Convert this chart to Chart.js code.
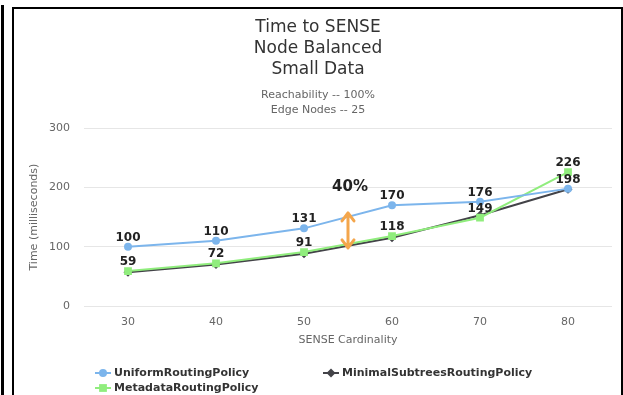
<!DOCTYPE html>
<html>
<head>
<meta charset="utf-8">
<title>Time to SENSE</title>
<script src="https://cdn.jsdelivr.net/npm/chart.js@4.4.1/dist/chart.umd.min.js"></script>
<style>
  html, body { margin: 0; padding: 0; background: #fff; }
  #wrap { position: relative; width: 623px; height: 395px; overflow: hidden; }
  canvas { display: block; }
  .rule { position: absolute; background: #000; pointer-events: none; }
</style>
</head>
<body>
<div id="wrap">
  <canvas id="chart" width="623" height="395"></canvas>
  <div class="rule" style="left:1px;top:5px;width:3px;height:390px"></div>
  <div class="rule" style="left:12px;top:7px;width:2px;height:388px"></div>
  <div class="rule" style="left:12px;top:7px;width:611px;height:2px"></div>
  <div class="rule" style="left:621px;top:7px;width:2px;height:388px"></div>
</div>
<script>
// SENSE cardinality (x categories)
const cardinality = ['30', '40', '50', '60', '70', '80'];
// time in milliseconds per routing policy
const uniformRouting = [100, 110, 131, 170, 176, 198];
const minimalSubtreesRouting = [57, 70, 88, 115, 153, 197];
const metadataRouting = [59, 72, 91, 118, 149, 226];
// y axis ticks
const timeTicks = [0, 100, 200, 300];

// gap annotation between the uniform and metadata curves
const gapAt = 2.5;          // halfway between 50 and 60
const gapFrom = 98;
const gapTo = 157;
const gapLabel = '40%';
const gapLabelAt = 200;

Chart.defaults.font.family = '"DejaVu Sans", Verdana, sans-serif';

// bold values above the points of selected series
const valueLabels = {
  id: 'valueLabels',
  afterDatasetsDraw(chart, args, opts) {
    const ctx = chart.ctx;
    ctx.save();
    ctx.font = 'bold 12px "DejaVu Sans"';
    ctx.textAlign = 'center';
    ctx.textBaseline = 'alphabetic';
    ctx.fillStyle = '#222';
    opts.datasets.forEach(i => {
      const values = chart.data.datasets[i].data;
      chart.getDatasetMeta(i).data.forEach((pt, j) => {
        ctx.fillText(String(values[j]), pt.x, pt.y - 6);
      });
    });
    ctx.restore();
  }
};

// orange double-headed arrow with its percentage label
const gapArrow = {
  id: 'gapArrow',
  afterDatasetsDraw(chart, args, opts) {
    const ctx = chart.ctx;
    const x = chart.scales.x.getPixelForValue(opts.at);
    const yTop = chart.scales.y.getPixelForValue(opts.to);
    const yBot = chart.scales.y.getPixelForValue(opts.from);
    ctx.save();
    ctx.strokeStyle = '#f4a64c';
    ctx.lineWidth = 3;
    ctx.lineCap = 'round';
    ctx.lineJoin = 'round';
    ctx.beginPath();
    ctx.moveTo(x, yTop); ctx.lineTo(x, yBot);
    ctx.moveTo(x - 6, yTop + 8); ctx.lineTo(x, yTop); ctx.lineTo(x + 6, yTop + 8);
    ctx.moveTo(x - 6, yBot - 8); ctx.lineTo(x, yBot); ctx.lineTo(x + 6, yBot - 8);
    ctx.stroke();
    ctx.font = 'bold 15px "DejaVu Sans"';
    ctx.fillStyle = '#222';
    ctx.textAlign = 'center';
    ctx.textBaseline = 'middle';
    ctx.fillText(opts.label, x + 2, chart.scales.y.getPixelForValue(opts.labelAt));
    ctx.restore();
  }
};

// legend in two columns under the axis title
const seriesLegend = {
  id: 'seriesLegend',
  afterDraw(chart, args, opts) {
    const ctx = chart.ctx;
    ctx.save();
    ctx.font = 'bold 11px "DejaVu Sans"';
    ctx.textAlign = 'left';
    ctx.textBaseline = 'middle';
    opts.slots.forEach((slot, i) => {
      const ds = chart.data.datasets[i];
      ctx.strokeStyle = ds.borderColor;
      ctx.lineWidth = 2;
      ctx.beginPath();
      ctx.moveTo(slot.x, slot.y);
      ctx.lineTo(slot.x + 16, slot.y);
      ctx.stroke();
      ctx.fillStyle = ds.borderColor;
      Chart.helpers.drawPoint(ctx, {
        pointStyle: ds.pointStyle, radius: ds.pointRadius, rotation: 0, borderWidth: 0
      }, slot.x + 8, slot.y);
      ctx.fillStyle = '#333';
      ctx.fillText(ds.label, slot.x + 19, slot.y);
    });
    ctx.restore();
  }
};

new Chart(document.getElementById('chart'), {
  type: 'line',
  data: {
    labels: cardinality,
    datasets: [
      {
        label: 'UniformRoutingPolicy',
        data: uniformRouting,
        borderColor: '#7cb5ec', backgroundColor: '#7cb5ec',
        pointStyle: 'circle', pointRadius: 4, pointBorderWidth: 0,
        borderWidth: 2, tension: 0, order: 0
      },
      {
        label: 'MinimalSubtreesRoutingPolicy',
        data: minimalSubtreesRouting,
        borderColor: '#434348', backgroundColor: '#434348',
        pointStyle: 'rectRot', pointRadius: 4.5, pointBorderWidth: 0,
        borderWidth: 2, tension: 0, order: 2
      },
      {
        label: 'MetadataRoutingPolicy',
        data: metadataRouting,
        borderColor: '#90ed7d', backgroundColor: '#90ed7d',
        pointStyle: 'rect', pointRadius: 5.5, pointBorderWidth: 0,
        borderWidth: 2, tension: 0, order: 1
      }
    ]
  },
  options: {
    responsive: false,
    animation: false,
    events: [],
    layout: { padding: { top: 0, left: 24, right: 11, bottom: 0 } },
    plugins: {
      legend: { display: false },
      tooltip: { enabled: false },
      title: {
        display: true,
        text: ['Time to SENSE', 'Node Balanced', 'Small Data'],
        color: '#333',
        font: { size: 17, weight: 'normal', lineHeight: 1.25 },
        padding: { top: 16.5, bottom: 7 }
      },
      subtitle: {
        display: true,
        text: ['Reachability -- 100%', 'Edge Nodes -- 25'],
        color: '#666',
        font: { size: 11, lineHeight: 1.36 },
        padding: { top: 0, bottom: 11 }
      },
      valueLabels: { datasets: [0, 2] },
      gapArrow: { at: gapAt, from: gapFrom, to: gapTo, label: gapLabel, labelAt: gapLabelAt },
      seriesLegend: {
        slots: [ { x: 95, y: 373 }, { x: 323, y: 373 }, { x: 95, y: 388 } ]
      }
    },
    scales: {
      x: {
        type: 'category',
        offset: true,
        grid: { display: false, drawTicks: false },
        border: { display: false },
        ticks: { color: '#666', font: { size: 11 }, padding: 10 },
        title: {
          display: true, text: 'SENSE Cardinality', color: '#666',
          font: { size: 11 }, padding: { top: 0, bottom: 48 }
        },
        afterFit: s => { s.height = 89; }
      },
      y: {
        min: 0,
        max: 300,
        afterBuildTicks: s => { s.ticks = timeTicks.map(v => ({ value: v })); },
        ticks: { color: '#666', font: { size: 11 }, padding: 14 },
        grid: { color: '#e6e6e6', drawTicks: false },
        border: { display: false },
        title: {
          display: true, text: 'Time (milliseconds)', color: '#666',
          font: { size: 11 }, padding: { top: 4, bottom: 0 }
        },
        afterFit: s => { s.width = 60; }
      }
    }
  },
  plugins: [valueLabels, gapArrow, seriesLegend]
});
</script>
</body>
</html>
